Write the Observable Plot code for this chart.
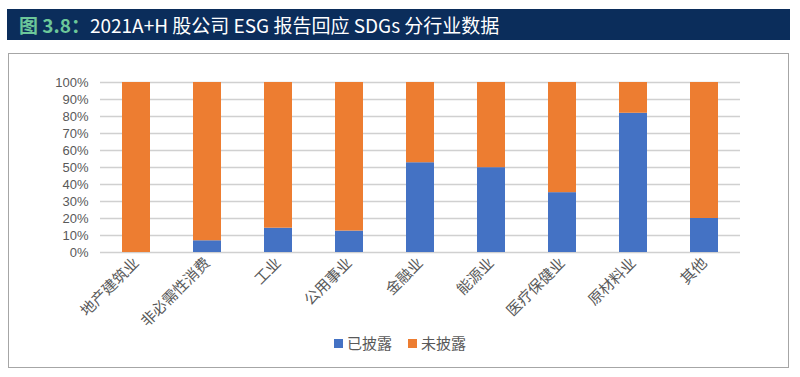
<!DOCTYPE html>
<html><head><meta charset="utf-8">
<script src="https://cdn.jsdelivr.net/npm/d3@7"></script>
<script src="https://cdn.jsdelivr.net/npm/@observablehq/plot@0.6"></script>
<style>
body{margin:0;background:#fff;font-family:"Noto Sans CJK SC","Noto Sans",sans-serif;}
#title{position:absolute;left:7px;top:9px;width:783px;height:31px;background:#0b2d5b;color:#fff;font-size:19px;line-height:31px;box-sizing:border-box;padding-left:12px;white-space:nowrap;}
#title .num{color:#6cc79a;font-weight:bold;}
#frame{position:absolute;left:8px;top:53px;width:781px;height:315px;border:1px solid #a6a6a6;box-sizing:border-box;}
#chart{position:absolute;left:0;top:50px;}
#legend{position:absolute;top:332px;left:0;width:800px;text-align:center;font-size:15px;color:#595959;}
#legend span.sw{display:inline-block;width:9px;height:9px;margin-right:4px;vertical-align:1px;}
#legend span.it{margin:0 8px;}
</style></head>
<body>
<div id="title"><span class="num">图 3.8：</span>2021A+H 股公司 ESG 报告回应 SDGs 分行业数据</div>
<div id="frame"></div>
<div id="chart"></div>
<div id="legend"></div>
<script>
const categories = ["地产建筑业","非必需性消费","工业","公用事业","金融业","能源业","医疗保健业","原材料业","其他"];
const disclosed = [0, 6.9, 14.3, 12.6, 52.8, 49.9, 35.2, 81.9, 20.0];
const seriesNames = ["已披露","未披露"];
const seriesColors = ["#4472C4","#ED7D31"];
const yTicks = [0,10,20,30,40,50,60,70,80,90,100];

const data = [];
categories.forEach((c,i)=>{
  data.push({cat:c, series:seriesNames[0], value:disclosed[i]});
  data.push({cat:c, series:seriesNames[1], value:100-disclosed[i]});
});

const plot = Plot.plot({
  width: 800, height: 290,
  marginLeft: 100, marginRight: 60, marginTop: 32, marginBottom: 88,
  style:{fontFamily:'"Noto Sans CJK SC",sans-serif', color:"#595959", background:"transparent"},
  x:{domain:categories, paddingInner:0.6, paddingOuter:0.3, label:null},
  y:{domain:[0,100], label:null},
  color:{domain:seriesNames, range:seriesColors},
  marks:[
    Plot.gridY(yTicks, {stroke:"#d0d0d0", strokeOpacity:1, strokeWidth:1.5}),
    Plot.barY(data, Plot.stackY({x:"cat", y:"value", fill:"series", order:seriesNames})),
    Plot.axisY({ticks:yTicks, tickFormat:d=>d+"%", tickSize:0, tickPadding:12, fontSize:13, fill:"#595959", label:null, fontFamily:'"Liberation Sans",sans-serif'}),
    Plot.axisX({tickSize:0, tickRotate:-45, tickPadding:8, fontSize:15, fill:"#595959", label:null, textAnchor:"end"})
  ]
});
document.getElementById("chart").appendChild(plot);

const lg = document.getElementById("legend");
seriesNames.forEach((s,i)=>{
  const it = document.createElement("span");
  it.className="it";
  it.innerHTML = `<span class="sw" style="background:${seriesColors[i]}"></span>${s}`;
  lg.appendChild(it);
});
</script>
</body></html>
